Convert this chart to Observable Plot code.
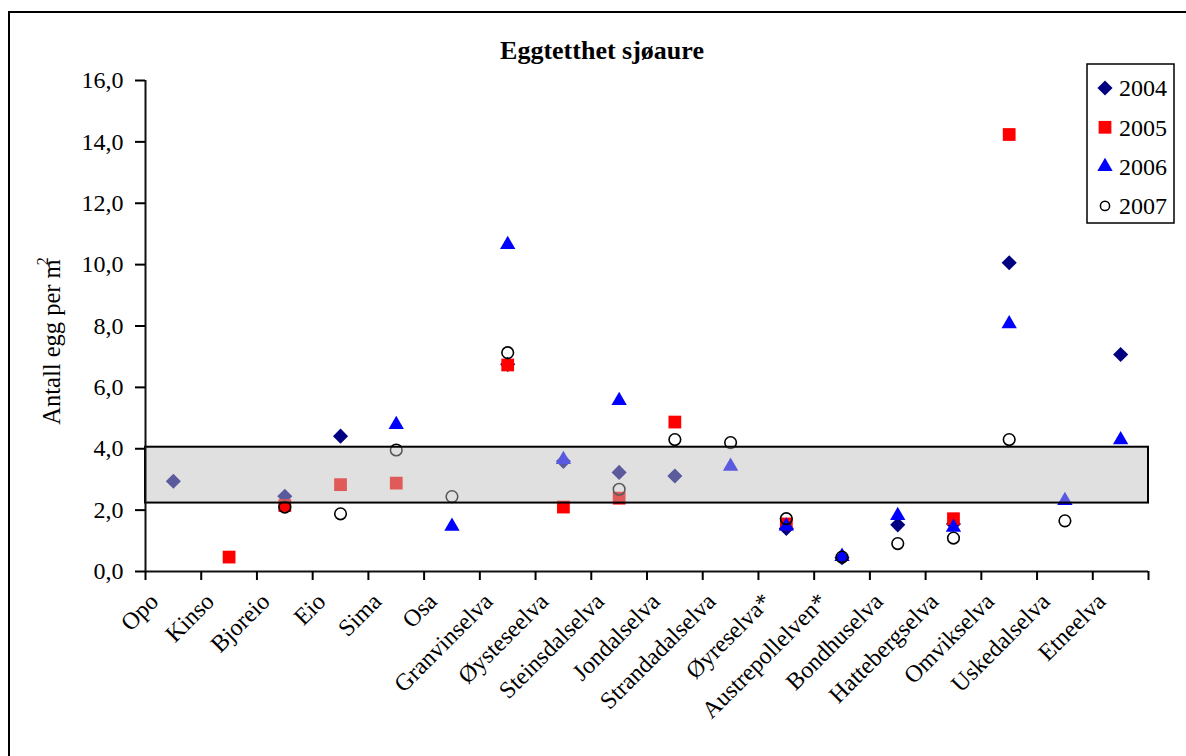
<!DOCTYPE html>
<html>
<head>
<meta charset="utf-8">
<script src="https://cdn.jsdelivr.net/npm/d3@7"></script>
<script src="https://cdn.jsdelivr.net/npm/@observablehq/plot@0.6"></script>
<style>
  html, body { margin: 0; padding: 0; background: white; }
  #chart { position: relative; width: 1186px; height: 756px; overflow: hidden; }
</style>
</head>
<body>
<div id="chart"></div>
<script>
const categories = ["Opo","Kinso","Bjoreio","Eio","Sima","Osa","Granvinselva","Øysteseelva","Steinsdalselva","Jondalselva","Strandadalselva","Øyreselva*","Austrepollelven*","Bondhuselva","Hattebergselva","Omvikselva","Uskedalselva","Etneelva"];
const years = ["2004","2005","2006","2007"];
const v2004 = [2.94, null, 2.45, 4.41, null, null, 6.75, 3.59, 3.23, 3.11, null, 1.40, 0.45, 1.52, 1.55, 10.06, null, 7.07];
const v2005 = [null, 0.47, 2.15, 2.83, 2.88, null, 6.73, 2.10, 2.39, 4.87, null, 1.55, null, null, 1.72, 14.24, null, null];
const v2006 = [null, null, null, null, 4.79, 1.47, 10.65, 3.65, 5.57, null, 3.43, 1.48, 0.49, 1.82, 1.44, 8.07, 2.31, 4.29];
const v2007 = [null, null, 2.10, 1.88, 3.96, 2.44, 7.13, null, 2.68, 4.30, 4.20, 1.72, 0.47, 0.91, 1.09, 4.30, 1.65, null];
const band = [{lo: 2.23, hi: 4.05}];
const yTicks = [0, 2, 4, 6, 8, 10, 12, 14, 16];

const pts = vals => vals.map((v, i) => ({i, v})).filter(d => d.v != null);
const FONT = "'Liberation Serif', 'Times New Roman', serif";

const plot = Plot.plot({
  width: 1186,
  height: 756,
  marginLeft: 145,
  marginRight: 38,
  marginTop: 80,
  marginBottom: 185,
  style: {fontFamily: FONT, fontSize: "24px", color: "black", background: "white"},
  x: {type: "linear", domain: [0, categories.length]},
  y: {domain: [0, 16]},
  marks: [
    Plot.dot(pts(v2004), {x: d => d.i + 0.5, y: "v", symbol: "diamond2", r: 6.8, fill: "#000080", stroke: "none"}),
    Plot.dot(pts(v2005), {x: d => d.i + 0.5, y: "v", symbol: "square", r: 7.2, fill: "#ff0000", stroke: "none"}),
    Plot.dot(pts(v2006), {x: d => d.i + 0.5, y: "v", symbol: "triangle", r: 5.7, fill: "#0000ff", stroke: "none"}),
    Plot.dot(pts(v2007), {x: d => d.i + 0.5, y: "v", symbol: "circle", r: 5.8, fill: "none", stroke: "black", strokeWidth: 1.6}),
    Plot.rect(band, {x1: 0, x2: categories.length, y1: "lo", y2: "hi", fill: "rgb(189,189,189)", fillOpacity: 0.475, stroke: "black", strokeWidth: 2}),
    Plot.ruleX([0], {y1: 0, y2: 16, stroke: "#111", strokeWidth: 2}),
    Plot.ruleY([0], {x1: 0, x2: categories.length, stroke: "#111", strokeWidth: 2}),
    Plot.axisY({ticks: yTicks, tickFormat: d => d.toFixed(1).replace(".", ","), tickSize: 10, tickPadding: 12, fontSize: 24, label: null, strokeWidth: 2}),
    Plot.axisX({ticks: d3.range(0, categories.length + 1), tickSize: 9, tickFormat: () => "", label: null, strokeWidth: 2}),
    Plot.axisX({ticks: d3.range(categories.length).map(i => i + 0.5), tickSize: 0, tickPadding: 26, tickRotate: -45, dx: -19,
      tickFormat: t => categories[Math.floor(t)], fontSize: 24, label: null})
  ]
});

const svg = d3.select(plot);
// outer frame
svg.insert("rect", ":first-child").attr("x", 9).attr("y", 12).attr("width", 1240).attr("height", 800)
  .attr("fill", "white").attr("stroke", "black").attr("stroke-width", 2);
// title
svg.append("text").attr("x", 602).attr("y", 59).attr("text-anchor", "middle")
  .attr("font-weight", "bold").attr("font-size", 26).attr("font-family", FONT).text("Eggtetthet sjøaure");
// y label
const yl = svg.append("text").attr("transform", "translate(60,341) rotate(-90)").attr("text-anchor", "middle")
  .attr("font-size", 24.5).attr("font-family", FONT);
yl.append("tspan").text("Antall egg per m");
yl.append("tspan").attr("font-size", 16).attr("dx", -6).attr("dy", -12).text("2");
// legend
const lg = svg.append("g").attr("text-anchor", "start");
lg.append("rect").attr("x", 1087).attr("y", 64).attr("width", 87).attr("height", 159)
  .attr("fill", "white").attr("stroke", "black").attr("stroke-width", 1.5);
const legendSpec = [
  {t: years[0], sym: d3.symbolDiamond2, r: 6.8, fill: "#000080", stroke: "none"},
  {t: years[1], sym: d3.symbolSquare, r: 7.2, fill: "#ff0000", stroke: "none"},
  {t: years[2], sym: d3.symbolTriangle, r: 5.7, fill: "#0000ff", stroke: "none"},
  {t: years[3], sym: d3.symbolCircle, r: 4.6, fill: "none", stroke: "black"}
];
legendSpec.forEach((s, k) => {
  const cy = 88 + k * 39.3;
  lg.append("path").attr("transform", `translate(1105,${cy})`)
    .attr("d", d3.symbol(s.sym, s.r * s.r * Math.PI)())
    .attr("fill", s.fill).attr("stroke", s.stroke).attr("stroke-width", 1.5);
  lg.append("text").attr("x", 1119).attr("y", cy).attr("dy", "0.35em").attr("text-anchor", "start")
    .attr("font-size", 24).attr("font-family", FONT).text(s.t);
});

document.getElementById("chart").appendChild(plot);
</script>
</body>
</html>
